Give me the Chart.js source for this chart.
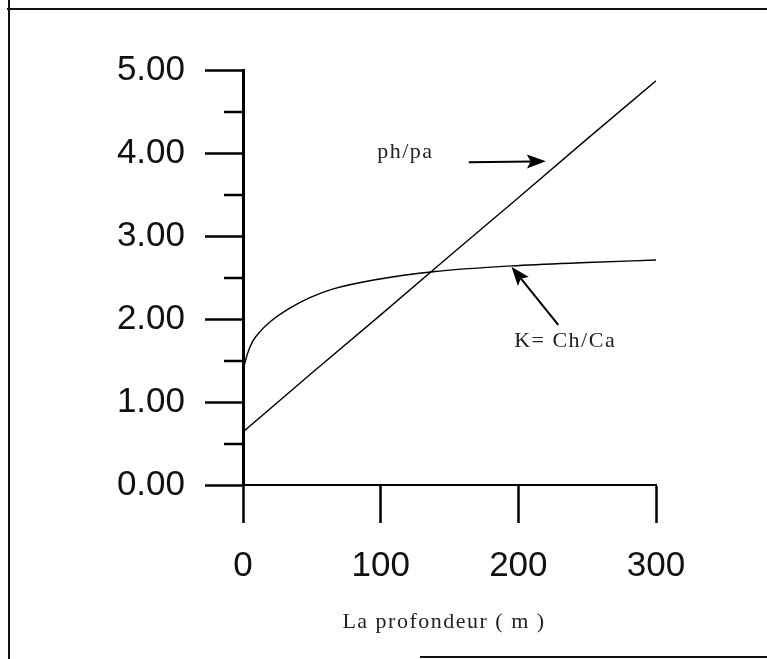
<!DOCTYPE html>
<html>
<head>
<meta charset="utf-8">
<script src="https://cdn.jsdelivr.net/npm/chart.js@4.4.1/dist/chart.umd.min.js"></script>
<style>
  html, body { margin: 0; padding: 0; background: #fff; }
  canvas { display: block; }
</style>
</head>
<body>
<canvas id="c" width="767" height="659"></canvas>
<script>
// ---- data ----
const phpaDepth  = [0, 50, 100, 150, 200, 250, 300];
const phpaValues = [0.64, 1.35, 2.05, 2.76, 3.46, 4.17, 4.87];

const kDepth  = [0, 3, 7, 13, 20, 34, 49, 65, 95, 138, 195, 250, 300];
const kValues = [1.38, 1.57, 1.73, 1.86, 1.97, 2.13, 2.26, 2.36, 2.47, 2.57, 2.64, 2.68, 2.71];

const xTickValues = [0, 100, 200, 300];
const yMajorTicks = [0, 1, 2, 3, 4, 5];

const xTitle = 'La profondeur ( m )';
const labelPhpa = 'ph/pa';
const labelK = 'K= Ch/Ca';

// annotation anchors (data units)
const notes = {
  phpaText:  { x: 118, y: 4.01 },
  phpaArrow: { from: { x: 164, y: 3.89 }, to: { x: 220, y: 3.90 } },
  kText:     { x: 234, y: 1.73 },
  kArrow:    { from: { x: 229, y: 1.93 }, to: { x: 195, y: 2.63 } }
};

const toPts = (xs, ys) => xs.map((x, i) => ({ x, y: ys[i] }));

function arrow(ctx, x1, y1, x2, y2) {
  const ang = Math.atan2(y2 - y1, x2 - x1);
  const len = 19, half = 7;
  ctx.beginPath();
  ctx.moveTo(x1, y1);
  ctx.lineTo(x2 - Math.cos(ang) * len * 0.7, y2 - Math.sin(ang) * len * 0.7);
  ctx.stroke();
  ctx.beginPath();
  ctx.moveTo(x2, y2);
  ctx.lineTo(x2 - Math.cos(ang) * len - Math.sin(ang) * half, y2 - Math.sin(ang) * len + Math.cos(ang) * half);
  ctx.lineTo(x2 - Math.cos(ang) * len * 0.8, y2 - Math.sin(ang) * len * 0.8);
  ctx.lineTo(x2 - Math.cos(ang) * len + Math.sin(ang) * half, y2 - Math.sin(ang) * len - Math.cos(ang) * half);
  ctx.closePath();
  ctx.fill();
}

const decor = {
  id: 'decor',
  beforeDraw(chart) {
    const ctx = chart.ctx;
    ctx.save();
    ctx.fillStyle = '#fff';
    ctx.fillRect(0, 0, chart.width, chart.height);
    ctx.strokeStyle = '#111';
    ctx.lineWidth = 2;
    ctx.beginPath();
    ctx.moveTo(9, 0); ctx.lineTo(9, chart.height);
    ctx.moveTo(7, 9); ctx.lineTo(chart.width, 9);
    ctx.moveTo(420, 657); ctx.lineTo(chart.width, 657);
    ctx.stroke();
    ctx.restore();
  },
  afterDraw(chart) {
    const ctx = chart.ctx;
    const xs = chart.scales.x, ys = chart.scales.y;
    const px = v => xs.getPixelForValue(v), py = v => ys.getPixelForValue(v);
    ctx.save();
    // minor ticks on y
    ctx.strokeStyle = '#000';
    ctx.lineWidth = 2.5;
    ys.ticks.forEach(t => {
      if (Math.abs(t.value - Math.round(t.value)) > 1e-6) {
        const y = Math.round(py(t.value));
        ctx.beginPath();
        ctx.moveTo(xs.left - 19, y);
        ctx.lineTo(xs.left, y);
        ctx.stroke();
      }
    });
    // axis title
    ctx.fillStyle = '#222';
    ctx.font = '22px "Liberation Serif", "DejaVu Serif", serif';
    ctx.letterSpacing = '1.5px';
    ctx.textAlign = 'center';
    ctx.textBaseline = 'middle';
    ctx.fillText(xTitle, 444, 622);
    // annotations
    ctx.fillText(labelPhpa, px(notes.phpaText.x), py(notes.phpaText.y));
    ctx.fillText(labelK, px(notes.kText.x), py(notes.kText.y));
    ctx.letterSpacing = '0px';
    ctx.strokeStyle = '#000';
    ctx.fillStyle = '#000';
    ctx.lineWidth = 2;
    arrow(ctx, px(notes.phpaArrow.from.x), py(notes.phpaArrow.from.y), px(notes.phpaArrow.to.x), py(notes.phpaArrow.to.y));
    arrow(ctx, px(notes.kArrow.from.x), py(notes.kArrow.from.y), px(notes.kArrow.to.x), py(notes.kArrow.to.y));
    ctx.restore();
  }
};

new Chart(document.getElementById('c'), {
  type: 'line',
  data: {
    datasets: [
      {
        label: labelPhpa,
        data: toPts(phpaDepth, phpaValues),
        borderColor: '#000',
        borderWidth: 1.4,
        pointRadius: 0,
        tension: 0,
        fill: false
      },
      {
        label: labelK,
        data: toPts(kDepth, kValues),
        borderColor: '#000',
        borderWidth: 1.4,
        pointRadius: 0,
        cubicInterpolationMode: 'monotone',
        fill: false
      }
    ]
  },
  options: {
    responsive: false,
    animation: false,
    events: [],
    layout: { padding: { left: 0, top: 70, right: 111, bottom: 0 } },
    plugins: { legend: { display: false }, tooltip: { enabled: false } },
    scales: {
      x: {
        type: 'linear',
        min: 0, max: 300,
        afterBuildTicks: s => { s.ticks = xTickValues.map(v => ({ value: v })); },
        ticks: {
          color: '#111',
          padding: 22,
          maxRotation: 0,
          autoSkip: false,
          font: { family: '"Liberation Sans", Arial, sans-serif', size: 35 },
          callback: v => String(v)
        },
        grid: { drawOnChartArea: false, drawTicks: true, tickLength: 38, tickWidth: 2.5, tickColor: '#000' },
        border: { display: true, color: '#000', width: 2 },
        afterFit: s => { s.height = 174; }
      },
      y: {
        type: 'linear',
        min: 0, max: 5,
        ticks: {
          stepSize: 0.5,
          autoSkip: false,
          color: '#111',
          padding: 20,
          font: { family: '"Liberation Sans", Arial, sans-serif', size: 35 },
          callback: v => yMajorTicks.includes(v) ? v.toFixed(2) : ''
        },
        grid: {
          drawOnChartArea: false, drawTicks: true, tickLength: 38, tickWidth: 2.5,
          tickColor: c => (c.tick && yMajorTicks.includes(c.tick.value)) ? '#000' : 'rgba(0,0,0,0)'
        },
        border: { display: true, color: '#000', width: 3 },
        afterFit: s => { s.width = 243; }
      }
    }
  },
  plugins: [decor]
});
</script>
</body>
</html>
